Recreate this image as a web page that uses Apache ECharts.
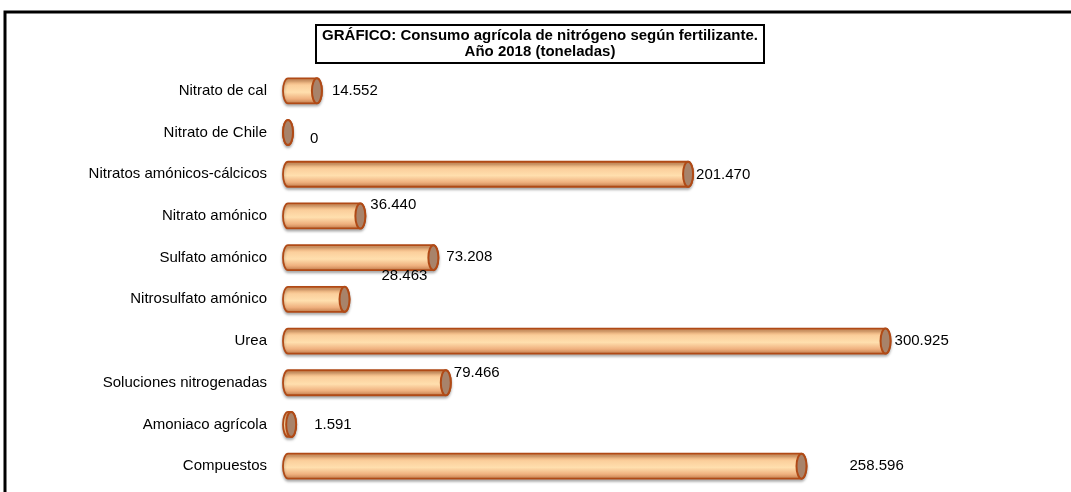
<!DOCTYPE html>
<html>

<head>
	<meta charset="utf-8">
	<title>Consumo agrícola de nitrógeno</title>
	<script src="https://cdn.jsdelivr.net/npm/echarts@6/dist/echarts.min.js" type="text/javascript" charset="utf-8"></script>
	<style>
		html, body { margin: 0; padding: 0; background: #fff; }
	</style>
</head>

<body>
	<div class="box" style="width: 1071px;height: 492px;"></div>
	<script type="text/javascript">
		// categorías (de arriba a abajo)
		var categories = [
			'Nitrato de cal',
			'Nitrato de Chile',
			'Nitratos amónicos-cálcicos',
			'Nitrato amónico',
			'Sulfato amónico',
			'Nitrosulfato amónico',
			'Urea',
			'Soluciones nitrogenadas',
			'Amoniaco agrícola',
			'Compuestos'
		]
		// toneladas
		var values = [14552, 0, 201470, 36440, 73208, 28463, 300925, 79466, 1591, 258596]

		// desplazamiento de cada etiqueta respecto al final de la barra (solo estilo)
		var labelShift = [[10, 0], [17, 6], [3, 1], [5, -11], [8, -1], [32, -23], [4, 0], [3, -10], [18, 0], [43, 0]]

		function fmt(v) {
			return String(v).replace(/\B(?=(\d{3})+(?!\d))/g, '.')
		}

		var FONT = '"Liberation Sans", Arial, sans-serif'

		var myEcharts = echarts.init(document.querySelector('.box'))

		// barra cilíndrica
		function renderItem(params, api) {
			var val = api.value(0)
			var idx = api.value(1)
			var start = api.coord([0, idx])
			var end = api.coord([val, idx])
			var h = api.size([0, 1])[1] * 0.6
			var rx = 5, ry = h / 2
			var x0 = start[0], x1 = end[0], cy = start[1]
			var top = cy - ry, bot = cy + ry
			var body = 'M' + x0 + ' ' + top + ' L' + x1 + ' ' + top +
				' A' + rx + ' ' + ry + ' 0 0 1 ' + x1 + ' ' + bot +
				' L' + x0 + ' ' + bot +
				' A' + rx + ' ' + ry + ' 0 0 1 ' + x0 + ' ' + top + ' Z'
			var cap = 'M' + (x1 - rx) + ' ' + cy +
				' A' + rx + ' ' + ry + ' 0 1 0 ' + (x1 + rx) + ' ' + cy +
				' A' + rx + ' ' + ry + ' 0 1 0 ' + (x1 - rx) + ' ' + cy + ' Z'
			var sh = labelShift[idx] || [8, 0]
			return {
				type: 'group',
				children: [
					{
						type: 'path',
						shape: { pathData: body },
						style: {
							fill: new echarts.graphic.LinearGradient(0, 0, 0, 1, [
								{ offset: 0, color: '#e0935a' },
								{ offset: 0.3, color: '#fbcf9c' },
								{ offset: 0.55, color: '#ffdfae' },
								{ offset: 0.8, color: '#efb07e' },
								{ offset: 1, color: '#bb7444' }
							]),
							stroke: '#b04a16',
							lineWidth: 1.8,
							shadowBlur: 3,
							shadowOffsetY: 2,
							shadowColor: 'rgba(0,0,0,0.3)'
						}
					},
					{
						type: 'path',
						shape: { pathData: cap },
						style: {
							fill: '#a8836a',
							stroke: '#b04a16',
							lineWidth: 2
						}
					},
					{
						type: 'text',
						x: x1 + rx + sh[0],
						y: cy + sh[1],
						style: {
							text: fmt(val),
							fill: '#000',
							font: '15px ' + FONT,
							verticalAlign: 'middle',
							align: 'left'
						}
					}
				]
			}
		}

		var options = {
			title: {
				text: 'GRÁFICO: Consumo agrícola de nitrógeno según fertilizante.\nAño 2018 (toneladas)',
				left: 534,
				top: 25,
				textAlign: 'center',
				padding: [3, 6],
				borderColor: '#000',
				borderWidth: 2,
				textStyle: {
					fontFamily: FONT,
					fontSize: 15,
					fontWeight: 'bold',
					color: '#000',
					lineHeight: 16
				}
			},
			graphic: [
				{
					type: 'rect',
					silent: true,
					shape: { x: 5, y: 12, width: 1100, height: 520 },
					style: { fill: 'none', stroke: '#000', lineWidth: 3 }
				}
			],
			grid: { left: 288, right: 88, top: 70, bottom: 5 },
			xAxis: { type: 'value', min: 0, max: 350000, show: false },
			yAxis: {
				type: 'category',
				data: categories,
				inverse: true,
				axisLine: { show: false },
				axisTick: { show: false },
				splitLine: { show: false },
				axisLabel: {
					color: '#000',
					fontSize: 15,
					fontFamily: FONT,
					margin: 21
				}
			},
			series: [
				{
					type: 'custom',
					renderItem: renderItem,
					encode: { x: 0, y: 1 },
					data: values.map(function (v, i) { return [v, i] })
				}
			]
		}

		myEcharts.setOption(options)
	</script>
</body>

</html>
